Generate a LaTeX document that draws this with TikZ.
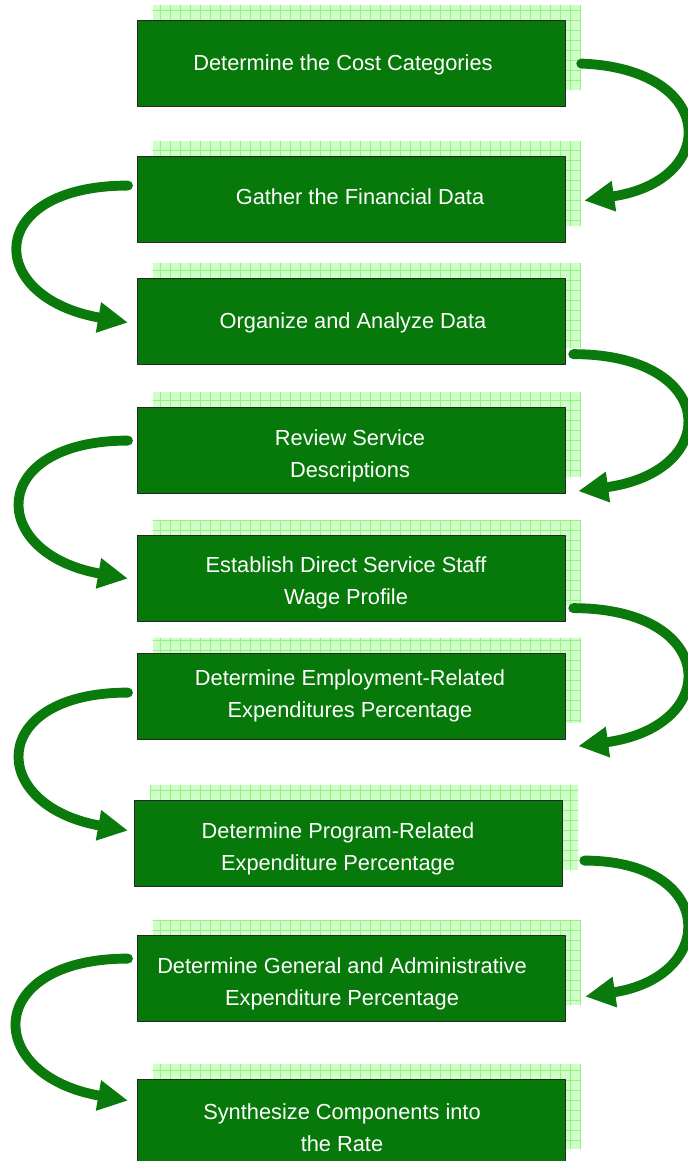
\documentclass[tikz,border=0pt]{standalone}
\usepackage{fontspec}
\setmainfont{Liberation Sans}
\usetikzlibrary{arrows.meta}
\definecolor{boxgreen}{RGB}{7,120,10}
\definecolor{arrowgreen}{RGB}{10,122,12}
\definecolor{gridfill}{RGB}{206,255,198}
\definecolor{gridline}{RGB}{150,240,130}
\tikzset{
  stepbox/.style={draw=black!85,line width=0.8pt,fill=boxgreen,minimum width=10.7cm,minimum height=2.15cm,inner sep=0pt,anchor=north west},
  steptext/.style={text=white,align=center,font=\fontsize{15.5}{22.7}\selectfont},
  flow/.style={draw=arrowgreen,line width=7pt,line cap=round,-{Triangle[length=0.75cm,width=0.72cm]}}
}

\begin{document}
\begin{tikzpicture}[line cap=round,line join=round,x=0.025cm,y=-0.025cm]
	\useasboundingbox (0,0) rectangle (688,1161);
	\clip (0,0) rectangle (688,1161);
	% grids and boxes
	\foreach \n/\bx/\by in {1/137/20,2/137/156,3/137/278,4/137/407,5/137/535,6/137/653,7/134/800,8/137/935,9/137/1079}{
		\fill[gridfill] (\bx+16,\by-15) rectangle (\bx+444,\by+70);
		\draw[gridline,line width=0.4pt,step=0.25cm] (\bx+16,\by-15) grid (\bx+444,\by+70);
		\node[stepbox] (b\n) at (\bx,\by) {};
	}
	\node[steptext] (t1) at (343,65) {Determine the Cost Categories};
	\node[steptext] (t2) at (360,197) {Gather the Financial Data};
	\node[steptext] (t3) at (353,323) {Organize and Analyze Data};
	\node[steptext] (t4) at (350,456) {Review Service\\Descriptions};
	\node[steptext] (t5) at (346,583) {Establish Direct Service Staff\\Wage Profile};
	\node[steptext] (t6) at (350,696) {Determine Employment-Related\\Expenditures Percentage};
	\node[steptext] (t7) at (338,849) {Determine Program-Related\\Expenditure Percentage};
	\node[steptext] (t8) at (342,984) {Determine General and Administrative\\Expenditure Percentage};
	\node[steptext] (t9) at (342,1128) {Synthesize Components into\\the Rate};
	% right side
	\draw[flow] ([shift={(15,0)}]b1.east) .. controls +(136,5) and +(136,-20) .. ([shift={(18,1)}]b2.east);
	\draw[flow] ([shift={(7,-11)}]b3.south east) .. controls +(145,0) and +(145,-20) .. ([shift={(12,-3)}]b4.south east);
	\draw[flow] ([shift={(7,-14)}]b5.south east) .. controls +(145,0) and +(145,-20) .. ([shift={(12,6)}]b6.south east);
	\draw[flow] ([shift={(21,17)}]b7.east) .. controls +(133,0) and +(133,-20) .. ([shift={(19,18)}]b8.east);
	% left side
	\draw[flow] ([shift={(-9,-14)}]b2.west) .. controls +(-144,0) and +(-144,-25) .. ([shift={(-9,1)}]b3.west);
	\draw[flow] ([shift={(-9,-10)}]b4.west) .. controls +(-141,0) and +(-141,-25) .. ([shift={(-9,0)}]b5.west);
	\draw[flow] ([shift={(-9,-4)}]b6.west) .. controls +(-141,0) and +(-141,-25) .. ([shift={(-6,-13)}]b7.west);
	\draw[flow] ([shift={(-9,-20)}]b8.west) .. controls +(-145,0) and +(-145,-25) .. ([shift={(-9,-22)}]b9.west);
\end{tikzpicture}
\end{document}
